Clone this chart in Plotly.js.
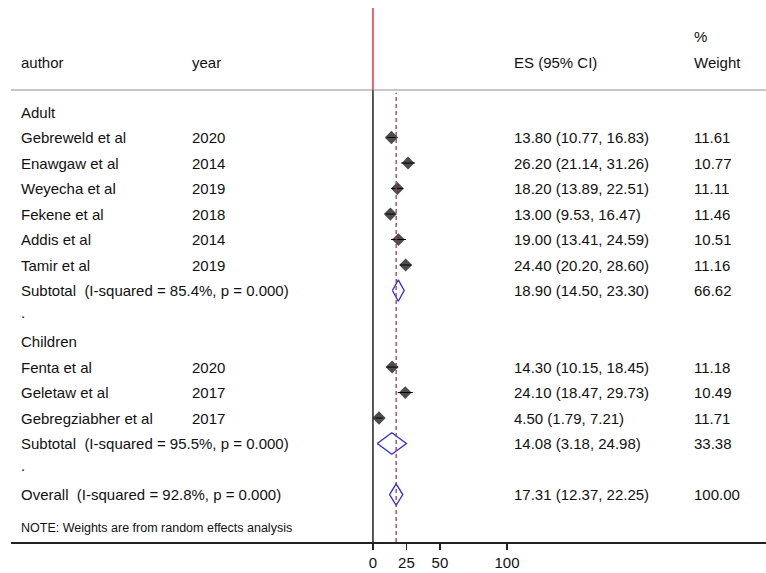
<!DOCTYPE html>
<html>
<head>
<meta charset="utf-8">
<script src="https://cdn.plot.ly/plotly-3.0.1.min.js"></script>
<style>html,body{margin:0;padding:0;background:#fff;}#chart{width:766px;height:573px;}</style>
</head>
<body>
<div id="chart"></div>
<script>
// ---- data ----
const adultAuthors = ["Gebreweld et al", "Enawgaw et al", "Weyecha et al", "Fekene et al", "Addis et al", "Tamir et al"];
const adultYears = ["2020", "2014", "2019", "2018", "2014", "2019"];
const adultES = [13.80, 26.20, 18.20, 13.00, 19.00, 24.40];
const adultLo = [10.77, 21.14, 13.89, 9.53, 13.41, 20.20];
const adultHi = [16.83, 31.26, 22.51, 16.47, 24.59, 28.60];
const adultW = [11.61, 10.77, 11.11, 11.46, 10.51, 11.16];

const childAuthors = ["Fenta et al", "Geletaw et al", "Gebregziabher et al"];
const childYears = ["2020", "2017", "2017"];
const childES = [14.30, 24.10, 4.50];
const childLo = [10.15, 18.47, 1.79];
const childHi = [18.45, 29.73, 7.21];
const childW = [11.18, 10.49, 11.71];

const subLabels = ["Subtotal  (I-squared = 85.4%, p = 0.000)", "Subtotal  (I-squared = 95.5%, p = 0.000)", "Overall  (I-squared = 92.8%, p = 0.000)"];
const subES = [18.90, 14.08, 17.31];
const subLo = [14.50, 3.18, 12.37];
const subHi = [23.30, 24.98, 22.25];
const subW = [66.62, 33.38, 100.00];

const groupNames = ["Adult", "Children"];
const tickVals = [0, 25, 50, 100];
const note = "NOTE: Weights are from random effects analysis";

// ---- layout of rows ----
const rowAdult = 0;
const adultRows = adultES.map((_, i) => 1 + i);          // 1..6
const rowSubA = 7, rowDotA = 8, rowChild = 9;
const childRows = childES.map((_, i) => 10 + i);         // 10..12
const rowSubC = 13, rowDotC = 14, rowOverall = 15;
const rowNote = 16.3;
const subRows = [rowSubA, rowSubC, rowOverall];

const colAuthor = -264.2, colYear = -136.8, colES = 103.9, colW = 238.0;
const font = {family: "Liberation Sans, Arial, sans-serif", size: 15, color: "#111"};
const fmt = v => v.toFixed(2);
const esText = (e, l, h) => fmt(e) + " (" + fmt(l) + ", " + fmt(h) + ")";

const ann = [];
function txt(x, y, t, f) {
  ann.push({x: x, y: y, xref: "x", yref: "y", text: t, showarrow: false, xanchor: "left", yanchor: "middle", font: f || font});
}
// header
txt(colAuthor, -1.96, "author");
txt(colYear, -1.96, "year");
txt(colES, -1.96, "ES (95% CI)");
txt(colW, -2.95, "%");
txt(colW, -1.96, "Weight");
// groups
txt(colAuthor, rowAdult, groupNames[0]);
txt(colAuthor, rowChild, groupNames[1]);
adultAuthors.forEach((a, i) => {
  txt(colAuthor, adultRows[i], a);
  txt(colYear, adultRows[i], adultYears[i]);
  txt(colES, adultRows[i], esText(adultES[i], adultLo[i], adultHi[i]));
  txt(colW, adultRows[i], fmt(adultW[i]));
});
childAuthors.forEach((a, i) => {
  txt(colAuthor, childRows[i], a);
  txt(colYear, childRows[i], childYears[i]);
  txt(colES, childRows[i], esText(childES[i], childLo[i], childHi[i]));
  txt(colW, childRows[i], fmt(childW[i]));
});
subLabels.forEach((s, i) => {
  txt(colAuthor, subRows[i], s);
  txt(colES, subRows[i], esText(subES[i], subLo[i], subHi[i]));
  txt(colW, subRows[i], fmt(subW[i]));
});
txt(colAuthor, rowDotA - 0.15, ".");
txt(colAuthor, rowDotC - 0.15, ".");
txt(colAuthor, rowNote, note, {family: font.family, size: 12.5, color: "#111"});

// ---- traces ----
const allES = adultES.concat(childES);
const allLo = adultLo.concat(childLo);
const allHi = adultHi.concat(childHi);
const allW = adultW.concat(childW);
const allRows = adultRows.concat(childRows);

const traces = [];
traces.push({
  type: "scatter", mode: "markers", x: allES, y: allRows,
  marker: {symbol: "diamond", color: "#000", size: allW.map(w => 10 * Math.sqrt(w / 11)), line: {width: 0}},
  error_x: {type: "data", symmetric: false, array: allHi.map((h, i) => h - allES[i]),
            arrayminus: allES.map((e, i) => e - allLo[i]), color: "#000", thickness: 1, width: 0},
  hoverinfo: "skip", showlegend: false
});
const dh = 0.42;
subES.forEach((e, i) => {
  const r = subRows[i];
  traces.push({
    type: "scatter", mode: "lines",
    x: [subLo[i], e, subHi[i], e, subLo[i]],
    y: [r, r - dh, r, r + dh, r],
    line: {color: "#2a2ae8", width: 1.3},
    hoverinfo: "skip", showlegend: false
  });
});

const overall = subES[2];
const shapes = [
  {type: "line", xref: "paper", yref: "y", x0: 0, x1: 1, y0: -0.863, y1: -0.863, line: {color: "#b5b5b5", width: 1.5}},
  {type: "line", xref: "x", yref: "y", x0: 0, x1: 0, y0: -4.08, y1: -0.863, line: {color: "#e8333a", width: 1.5}},
  {type: "line", xref: "x", yref: "paper", x0: 0, x1: 0, y0: 0, y1: 0.8334, line: {color: "#222", width: 1.5}},
  {type: "line", xref: "x", yref: "paper", x0: overall, x1: overall, y0: 0, y1: 0.829, line: {color: "#a03a48", width: 1.3, dash: "4px,3px"}}
];

const layout = {
  width: 766, height: 573,
  margin: {l: 11, r: 0, t: 0, b: 31},
  paper_bgcolor: "#fff", plot_bgcolor: "#fff",
  showlegend: false,
  xaxis: {range: [-270.1, 293.3], tickvals: tickVals, ticktext: tickVals.map(String),
          showgrid: false, zeroline: false, showline: true, linecolor: "#222", linewidth: 1.5,
          ticks: "outside", ticklen: 6, tickwidth: 1.5, tickcolor: "#222",
          tickfont: {family: font.family, size: 15, color: "#111"}, fixedrange: true},
  yaxis: {range: [16.86, -4.392], visible: false, showgrid: false, zeroline: false, fixedrange: true},
  annotations: ann,
  shapes: shapes
};

Plotly.newPlot("chart", traces, layout, {displayModeBar: false, staticPlot: true});
</script>
</body>
</html>
